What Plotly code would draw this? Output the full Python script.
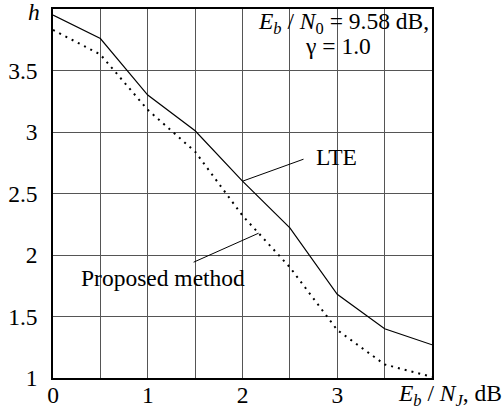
import numpy as np
import plotly.graph_objects as go

# E_b/N_J in dB and the resulting h for both schemes
ebnj = [0.0, 0.5, 1.0, 1.5, 2.0, 2.5, 3.0, 3.5, 4.0]
h_lte = [3.95, 3.76, 3.30, 3.01, 2.60, 2.22, 1.68, 1.40, 1.27]
h_proposed = [3.83, 3.63, 3.18, 2.84, 2.32, 1.90, 1.39, 1.11, 1.01]

x_ticks = [0.0, 0.5, 1.0, 1.5, 2.0, 2.5, 3.0, 3.5, 4.0]
x_ticktext = ["0", "", "1", "", "2", "", "3", "", ""]
y_ticks = [1.0, 1.5, 2.0, 2.5, 3.0, 3.5, 4.0]
y_ticktext = ["1", "1.5", "2", "2.5", "3", "3.5", ""]

FONT = "Liberation Serif"
GRID = "#555555"
FS = 23.5

fig = go.Figure()
fig.add_trace(go.Scatter(
    x=ebnj, y=h_lte, mode="lines", name="LTE",
    line=dict(color="black", width=1.2),
))
fig.add_trace(go.Scatter(
    x=ebnj, y=h_proposed, mode="lines", name="Proposed method",
    line=dict(color="black", width=2, dash="2px,5px"),
))

# leader lines from the curves to their labels
lte_anchor_x = 2.0
lte_anchor_y = float(np.interp(lte_anchor_x, ebnj, h_lte))
prop_anchor_x = 2.17
prop_anchor_y = float(np.interp(prop_anchor_x, ebnj, h_proposed))
fig.add_shape(type="line", xref="x", yref="y", xsizemode="pixel", ysizemode="pixel",
              xanchor=lte_anchor_x, yanchor=lte_anchor_y,
              x0=0, y0=0, x1=61, y1=22, line=dict(color="black", width=1))
fig.add_shape(type="line", xref="x", yref="y", xsizemode="pixel", ysizemode="pixel",
              xanchor=prop_anchor_x, yanchor=prop_anchor_y,
              x0=0, y0=0, x1=-65, y1=-29, line=dict(color="black", width=1))

txt = dict(family=FONT, size=FS, color="black")
fig.add_annotation(x=2.99, y=2.80, xref="x", yref="y", text="LTE",
                   showarrow=False, font=txt)
fig.add_annotation(x=1.16, y=1.81, xref="x", yref="y", text="Proposed method",
                   showarrow=False, font=txt)
fig.add_annotation(x=3.985, y=3.89, xref="x", yref="y", xanchor="right",
                   text="<i>E<sub>b</sub></i> / <i>N</i><sub>0</sub> = 9.58 dB,",
                   showarrow=False, font=txt)
fig.add_annotation(x=3.01, y=3.70, xref="x", yref="y",
                   text="γ = 1.0", showarrow=False, font=txt)
# axis titles: h at the top of the y axis, E_b/N_J at the end of the x axis
fig.add_annotation(x=-0.03, y=1.0, xref="paper", yref="paper",
                   xanchor="right", yanchor="middle", yshift=-3,
                   text="<i>h</i>", showarrow=False, font=txt)
fig.add_annotation(x=1.19, y=-0.046, xref="paper", yref="paper",
                   xanchor="right", yanchor="middle",
                   text="<i>E<sub>b</sub></i> / <i>N<sub>J</sub></i>, dB",
                   showarrow=False, font=txt)

fig.update_xaxes(
    range=[0, 4], tickvals=x_ticks, ticktext=x_ticktext,
    showgrid=True, gridcolor=GRID, gridwidth=1,
    showline=True, linecolor="black", linewidth=1.6, mirror=True,
    ticks="", zeroline=False, ticklabelstandoff=-5, automargin=False,
    tickfont=dict(family=FONT, size=FS, color="black"),
)
fig.update_yaxes(
    range=[1, 4], tickvals=y_ticks, ticktext=y_ticktext,
    showgrid=True, gridcolor=GRID, gridwidth=1,
    showline=True, linecolor="black", linewidth=1.6, mirror=True,
    ticks="", zeroline=False, ticklabelstandoff=9, automargin=False,
    tickfont=dict(family=FONT, size=FS, color="black"),
)
fig.update_layout(
    width=504, height=411,
    margin=dict(l=53, r=72, t=9, b=33),
    paper_bgcolor="white", plot_bgcolor="white",
    showlegend=False,
)

fig.write_html("out.html")
